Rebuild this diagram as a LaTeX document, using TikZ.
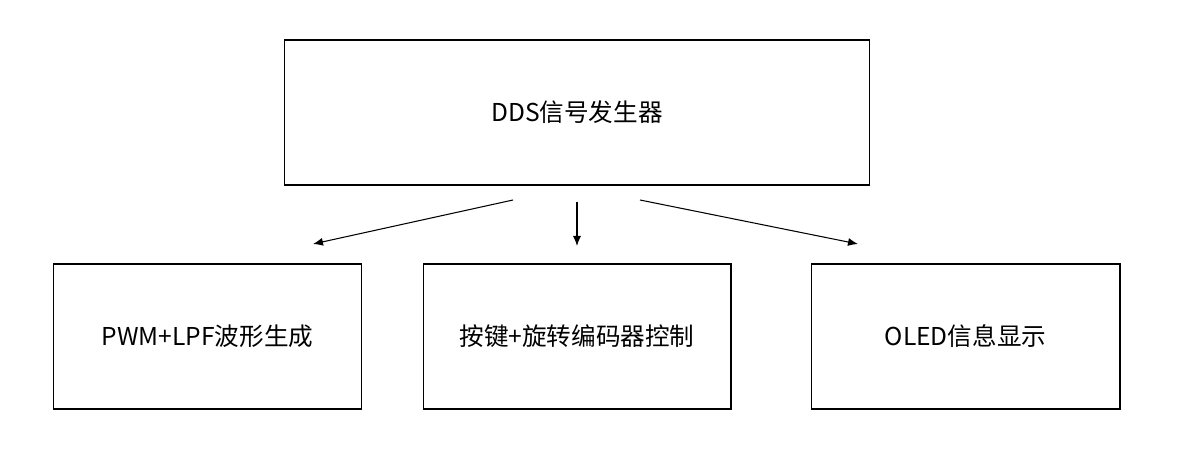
\documentclass[tikz,border=0pt]{standalone}
\usepackage{fontspec}
\setmainfont{Noto Sans CJK SC}
\usetikzlibrary{arrows.meta}

\begin{document}
\begin{tikzpicture}[x=0.02cm,y=0.02cm,>={Latex[length=2mm,width=1.6mm]},
 font=\fontsize{14}{16}\selectfont,
 blk/.style={draw,line width=0.6pt,minimum height=2.9cm,align=center,inner sep=0pt}]
\useasboundingbox (0,0) rectangle (1191,470);
\node[blk,minimum width=11.72cm] (dds) at (577,357.5) {DDS信号发生器};
\node[blk,minimum width=6.18cm] (pwm) at (207.5,133.5) {PWM+LPF波形生成};
\node[blk,minimum width=6.16cm] (key) at (577,133.5) {按键+旋转编码器控制};
\node[blk,minimum width=6.18cm] (oled) at (965.5,133.5) {OLED信息显示};
% free ends of the arrows
\coordinate (s1) at (513,270); \coordinate (e1) at (313,226);
\coordinate (s2) at (577,268); \coordinate (e2) at (577,224);
\coordinate (s3) at (640,270); \coordinate (e3) at (858,226);
\foreach \a/\b in {s1/e1,s2/e2,s3/e3}{\draw[line width=0.6pt,->] (\a)--(\b);}
\end{tikzpicture}
\end{document}
